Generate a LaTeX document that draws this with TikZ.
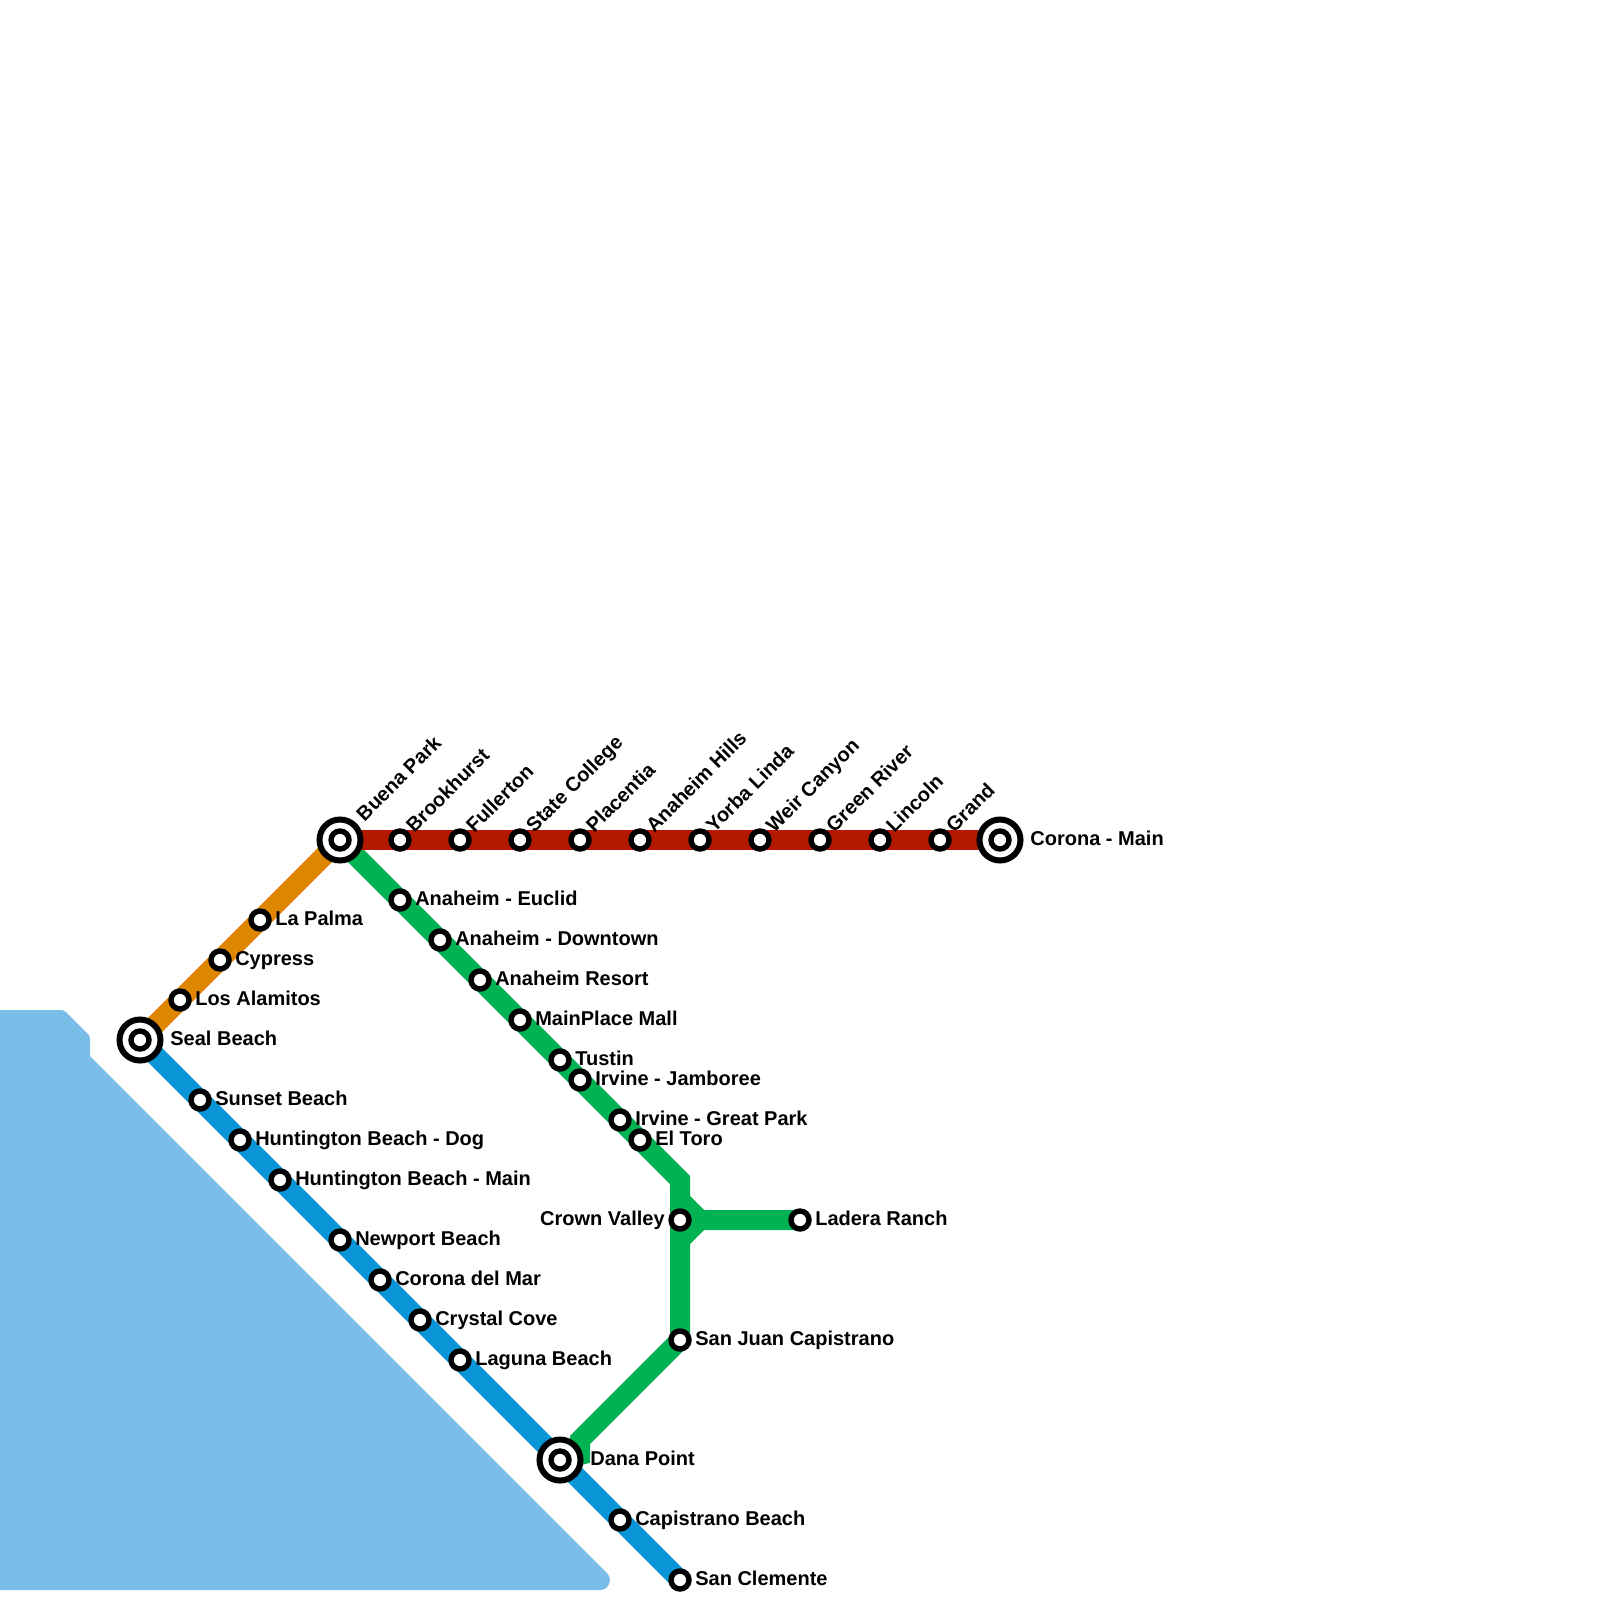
\documentclass[tikz,border=0pt]{standalone}
\usepackage{fontspec}
\setmainfont{Liberation Sans}
\usetikzlibrary{positioning,backgrounds}
\definecolor{LineaRoja}{RGB}{181,26,0}
\definecolor{LineaNaranja}{RGB}{223,134,0}
\definecolor{LineaVerde}{RGB}{0,178,81}
\definecolor{LineaAzul}{RGB}{8,150,215}
\definecolor{Agua}{RGB}{121,189,233}
\tikzset{
  stopdot/.style={circle, draw=black, line width=2.7pt, fill=white,
    minimum size=9pt, inner sep=0pt},
  hubring/.style={circle, draw=black, line width=3pt, fill=white,
    minimum size=20.5pt, inner sep=0pt},
  stopname/.style={font=\bfseries\fontsize{10}{10}\selectfont, inner sep=0pt,
    text height=7pt, text depth=2pt},
  slantname/.style={font=\bfseries\fontsize{10}{10}\selectfont, inner sep=0pt,
    rotate=45, anchor=base west, xshift=7.2pt, yshift=-2.7pt},
  metroline/.style={line width=10pt},
}
\begin{document}
\begin{tikzpicture}[x=0.5pt, y=-0.5pt, node distance=1.6pt]
    \useasboundingbox (0,0) rectangle (1600,1600);
    % terminales e intercambios
    \node[hubring] (sealring) at (140,1040) {};
    \node[stopdot] (seal) at (140,1040) {};
    \node[stopname, right=15pt of seal.center] (sealname) {Seal Beach};
    \node[hubring] (buenaring) at (340,840) {};
    \node[stopdot] (buena) at (340,840) {};
    \node[slantname, xshift=7.6pt, yshift=0.3pt] (buenaname) at (buena) {Buena Park};
    \node[hubring] (coronaring) at (1000,840) {};
    \node[stopdot] (corona) at (1000,840) {};
    \node[stopname, right=15pt of corona.center] (coronaname) {Corona - Main};
    \node[hubring] (danaring) at (560,1460) {};
    \node[stopdot] (dana) at (560,1460) {};
    \node[stopname, right=15pt of dana.center] (dananame) {Dana Point};
    % naranja
    \node[stopdot] (alamitos) at (180,1000) {};
    \node[stopname, right=of alamitos] (alamitosname) {Los Alamitos};
    \node[stopdot] (cypress) at (220,960) {};
    \node[stopname, right=of cypress] (cypressname) {Cypress};
    \node[stopdot] (palma) at (260,920) {};
    \node[stopname, right=of palma] (palmaname) {La Palma};
    % roja
    \node[stopdot] (brookhurst) at (400,840) {};
    \node[slantname] (brookhurstname) at (brookhurst) {Brookhurst};
    \node[stopdot] (fullerton) at (460,840) {};
    \node[slantname] (fullertonname) at (fullerton) {Fullerton};
    \node[stopdot] (college) at (520,840) {};
    \node[slantname] (collegename) at (college) {State College};
    \node[stopdot] (placentia) at (580,840) {};
    \node[slantname] (placentianame) at (placentia) {Placentia};
    \node[stopdot] (hills) at (640,840) {};
    \node[slantname] (hillsname) at (hills) {Anaheim Hills};
    \node[stopdot] (yorba) at (700,840) {};
    \node[slantname] (yorbaname) at (yorba) {Yorba Linda};
    \node[stopdot] (weir) at (760,840) {};
    \node[slantname] (weirname) at (weir) {Weir Canyon};
    \node[stopdot] (green) at (820,840) {};
    \node[slantname] (greenname) at (green) {Green River};
    \node[stopdot] (lincoln) at (880,840) {};
    \node[slantname] (lincolnname) at (lincoln) {Lincoln};
    \node[stopdot] (grand) at (940,840) {};
    \node[slantname] (grandname) at (grand) {Grand};
    % verde
    \node[stopdot] (euclid) at (400,900) {};
    \node[stopname, right=of euclid] (euclidname) {Anaheim - Euclid};
    \node[stopdot] (downtown) at (440,940) {};
    \node[stopname, right=of downtown] (downtownname) {Anaheim - Downtown};
    \node[stopdot] (resort) at (480,980) {};
    \node[stopname, right=of resort] (resortname) {Anaheim Resort};
    \node[stopdot] (mainplace) at (520,1020) {};
    \node[stopname, right=of mainplace] (mainplacename) {MainPlace Mall};
    \node[stopdot] (tustin) at (560,1060) {};
    \node[stopname, right=of tustin] (tustinname) {Tustin};
    \node[stopdot] (jamboree) at (580,1080) {};
    \node[stopname, right=of jamboree] (jamboreename) {Irvine - Jamboree};
    \node[stopdot] (greatpark) at (620,1120) {};
    \node[stopname, right=of greatpark] (greatparkname) {Irvine - Great Park};
    \node[stopdot] (toro) at (640,1140) {};
    \node[stopname, right=of toro] (toroname) {El Toro};
    \node[stopdot] (crown) at (680,1220) {};
    \node[stopname, left=of crown] (crownname) {Crown Valley};
    \node[stopdot] (ladera) at (800,1220) {};
    \node[stopname, right=of ladera] (laderaname) {Ladera Ranch};
    \node[stopdot] (juan) at (680,1340) {};
    \node[stopname, right=of juan] (juanname) {San Juan Capistrano};
    % azul
    \node[stopdot] (sunset) at (200,1100) {};
    \node[stopname, right=of sunset] (sunsetname) {Sunset Beach};
    \node[stopdot] (dog) at (240,1140) {};
    \node[stopname, right=of dog] (dogname) {Huntington Beach - Dog};
    \node[stopdot] (hbmain) at (280,1180) {};
    \node[stopname, right=of hbmain] (hbmainname) {Huntington Beach - Main};
    \node[stopdot] (newport) at (340,1240) {};
    \node[stopname, right=of newport] (newportname) {Newport Beach};
    \node[stopdot] (delmar) at (380,1280) {};
    \node[stopname, right=of delmar] (delmarname) {Corona del Mar};
    \node[stopdot] (crystal) at (420,1320) {};
    \node[stopname, right=of crystal] (crystalname) {Crystal Cove};
    \node[stopdot] (laguna) at (460,1360) {};
    \node[stopname, right=of laguna] (lagunaname) {Laguna Beach};
    \node[stopdot] (capistrano) at (620,1520) {};
    \node[stopname, right=of capistrano] (capistranoname) {Capistrano Beach};
    \node[stopdot] (clemente) at (680,1580) {};
    \node[stopname, right=of clemente] (clementename) {San Clemente};
    % puntos de quiebre
    \coordinate (bendtoro) at (680,1180);
    \coordinate (forkup) at (680,1200);
    \coordinate (forkmid) at (700,1220);
    \coordinate (forkdown) at (680,1240);
    \coordinate (bendjuan) at (580,1440);
    \coordinate (benddana) at (580,1455);
    \begin{pgfonlayer}{background}
      \fill[Agua] (0,1010) [rounded corners=1.5pt] -- (64,1010) -- (90,1036) [sharp corners] -- (90,1056) -- (607,1573) arc[start angle=45, end angle=-90, radius=5pt] -- (0,1590) -- cycle;
      \draw[metroline, LineaVerde] (buena.center) -- (bendtoro) -- (juan.center) -- (bendjuan) -- (benddana) -- (dana.center);
      \draw[metroline, LineaVerde] (forkup) -- (forkmid) -- (ladera.center);
      \draw[metroline, LineaVerde] (forkmid) -- (forkdown);
      \draw[metroline, LineaNaranja] (seal.center) -- (buena.center);
      \draw[metroline, LineaAzul] (seal.center) -- (clemente.center);
      \draw[metroline, LineaRoja] (buena.center) -- (corona.center);
    \end{pgfonlayer}
  \end{tikzpicture}
\end{document}
